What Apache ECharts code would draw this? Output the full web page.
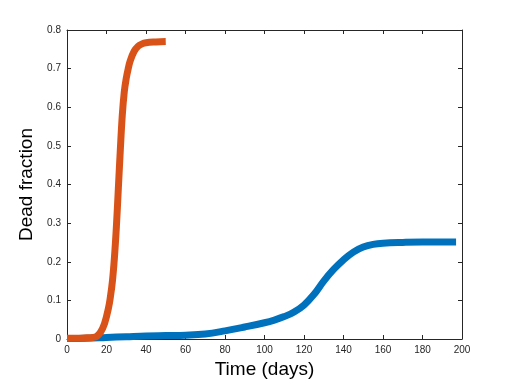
<!DOCTYPE html>
<html>
<head>
<meta charset="utf-8">
<script src="https://cdn.jsdelivr.net/npm/echarts@6/dist/echarts.min.js"></script>
<style>
html,body{margin:0;padding:0;background:#fff;}
#main{width:512px;height:384px;}
</style>
</head>
<body>
<div id="main"></div>
<script>
// 数据
var blueDays = [0, 10, 20, 30, 40, 50, 60, 70, 80, 90, 100, 105, 110, 115, 120, 125, 130, 135, 140, 145, 150, 155, 160, 170, 180, 190, 197];
var blueVals = [0.001, 0.002, 0.004, 0.006, 0.008, 0.009, 0.010, 0.013, 0.021, 0.031, 0.042, 0.049, 0.058, 0.070, 0.088, 0.115, 0.150, 0.180, 0.205, 0.225, 0.238, 0.245, 0.248, 0.250, 0.251, 0.251, 0.251];
var orangeDays = [0, 5, 10, 13, 15, 17, 19, 21, 22, 23, 24, 25, 26, 27, 28, 29, 30, 31, 32, 34, 36, 38, 40, 45, 50];
var orangeVals = [0.002, 0.002, 0.003, 0.004, 0.007, 0.018, 0.040, 0.080, 0.110, 0.150, 0.210, 0.290, 0.390, 0.490, 0.580, 0.640, 0.675, 0.700, 0.720, 0.745, 0.758, 0.764, 0.767, 0.769, 0.770];
var xTicks = [0, 200, 20];
var yTicks = [0, 0.8, 0.1];

function pairs(xs, ys){
	var out = [];
	for(var i=0;i<xs.length;i++){ out.push([xs[i], ys[i]]); }
	return out;
}

var chart = echarts.init(document.getElementById('main'));
var fontFam = 'Liberation Sans, Arial, sans-serif';
var lineCol = '#262626';
function axisBase(extra){
	var a = {
		type:'value',
		axisLine:{show:true,onZero:false,lineStyle:{color:lineCol,width:1}},
		axisTick:{show:true,inside:true,length:4,lineStyle:{color:lineCol}},
		splitLine:{show:false},
		axisLabel:{show:true,color:lineCol,fontSize:10,fontFamily:fontFam}
	};
	for(var k in extra){ a[k] = extra[k]; }
	return a;
}
var option = {
	backgroundColor:'#fff',
	animation:false,
	grid:{left:67,right:50,top:30,bottom:42},
	xAxis:[
		axisBase({min:xTicks[0],max:xTicks[1],interval:xTicks[2],position:'bottom',
			name:'Time (days)',nameLocation:'middle',nameGap:21,
			nameTextStyle:{fontSize:19,color:'#000',fontFamily:fontFam},
			axisLabel:{show:true,color:lineCol,fontSize:10,fontFamily:fontFam,margin:6}}),
		axisBase({min:xTicks[0],max:xTicks[1],interval:xTicks[2],position:'top',
			axisLabel:{show:false}})
	],
	yAxis:[
		axisBase({min:yTicks[0],max:yTicks[1],interval:yTicks[2],position:'left',
			name:'Dead fraction',nameLocation:'middle',nameGap:23,
			nameTextStyle:{fontSize:19,color:'#000',fontFamily:fontFam},
			axisLabel:{show:true,color:lineCol,fontSize:10,fontFamily:fontFam,margin:6}}),
		axisBase({min:yTicks[0],max:yTicks[1],interval:yTicks[2],position:'right',
			axisLabel:{show:false}})
	],
	series:[
		{
			type:'line',
			data:pairs(blueDays, blueVals),
			smooth:0.4,
			showSymbol:false,
			lineStyle:{color:'#0072BD',width:7}
		},
		{
			type:'line',
			data:pairs(orangeDays, orangeVals),
			smooth:0.4,
			showSymbol:false,
			lineStyle:{color:'#D95319',width:7}
		}
	]
};
chart.setOption(option);
</script>
</body>
</html>
